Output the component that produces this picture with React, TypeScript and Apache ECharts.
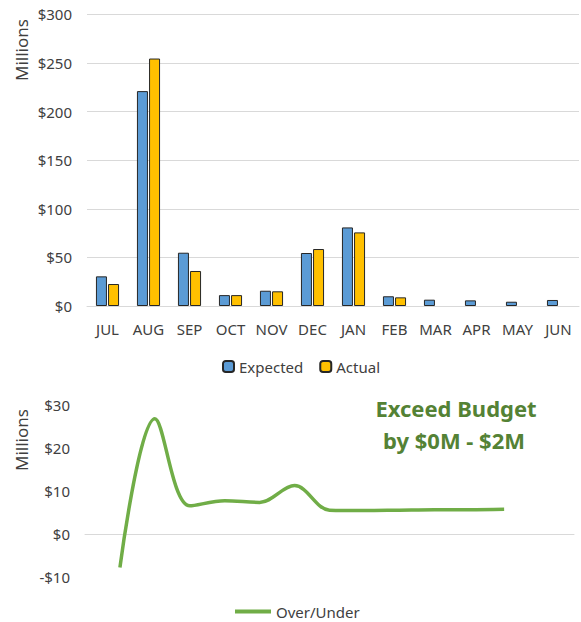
import React, { useEffect, useRef } from "react";
import * as echarts from "echarts";

const months = ["JUL", "AUG", "SEP", "OCT", "NOV", "DEC", "JAN", "FEB", "MAR", "APR", "MAY", "JUN"];
const expected = [30.5, 221, 54.8, 11.2, 15.7, 54.5, 80.8, 10, 6.5, 5.8, 4.4, 6.2];
const actual: (number | null)[] = [22.6, 254.5, 36, 11.2, 15.1, 58.6, 75.7, 8.9, null, null, null, null];
const overUnder = [-7.7, 26.8, 6.6, 7.8, 7.4, 11.3, 5.6, 5.5, 5.6, 5.7, 5.7, 5.8];
const topTicks = { min: 0, max: 300, interval: 50 };
const bottomTicks = { min: -10, max: 30, interval: 10 };
const noteLines = ["Exceed Budget", "by $0M - $2M"];

const FONT = "Noto Sans";
const TXT = "#404040";
const GRID = "#d9d9d9";

function money(v: number) {
  return v < 0 ? "-$" + Math.abs(v) : "$" + v;
}

export default function App() {
  const ref = useRef<HTMLDivElement>(null);
  useEffect(() => {
    document.body.style.margin = "0";
    const chart = echarts.init(ref.current!, null, { renderer: "svg" });
    chart.setOption({
      animation: false,
      textStyle: { fontFamily: FONT },
      grid: [
        { left: 87, right: 2, top: 14.3, height: 291.7 },
        { left: 85, right: 7, top: 405, height: 172.4 },
      ],
      xAxis: [
        {
          type: "category",
          gridIndex: 0,
          data: months,
          axisLine: { lineStyle: { color: GRID } },
          axisTick: { show: false },
          axisLabel: { color: TXT, fontSize: 15, margin: 15, interval: 0, fontFamily: FONT },
        },
        {
          type: "value",
          gridIndex: 1,
          min: -1,
          max: 13,
          axisLine: { show: true, onZero: true, lineStyle: { color: GRID } },
          axisTick: { show: false },
          axisLabel: { show: false },
          splitLine: { show: false },
        },
      ],
      yAxis: [
        {
          type: "value",
          gridIndex: 0,
          ...topTicks,
          axisLine: { show: false },
          axisTick: { show: false },
          axisLabel: { color: TXT, fontSize: 15, margin: 15, formatter: money, fontFamily: FONT },
          splitLine: { lineStyle: { color: GRID } },
        },
        {
          type: "value",
          gridIndex: 1,
          ...bottomTicks,
          axisLine: { show: false },
          axisTick: { show: false },
          axisLabel: { color: TXT, fontSize: 15, margin: 15, formatter: money, fontFamily: FONT },
          splitLine: { show: false },
        },
      ],
      legend: [
        {
          data: ["Expected", "Actual"],
          left: 222,
          top: 359,
          padding: 0,
          itemWidth: 11,
          itemHeight: 11,
          itemGap: 16,
          textStyle: { color: TXT, fontSize: 15, fontFamily: FONT },
        },
        {
          data: [{ name: "Over/Under", icon: "rect" }],
          left: 235,
          top: 604,
          padding: 0,
          itemWidth: 36,
          itemHeight: 4,
          textStyle: { color: TXT, fontSize: 15, fontFamily: FONT },
        },
      ],
      series: [
        {
          name: "Expected",
          type: "bar",
          xAxisIndex: 0,
          yAxisIndex: 0,
          data: expected,
          barWidth: 11,
          barGap: "10%",
          itemStyle: { color: "#5B9BD5", borderColor: "#262626", borderWidth: 1 },
        },
        {
          name: "Actual",
          type: "bar",
          xAxisIndex: 0,
          yAxisIndex: 0,
          data: actual.map((v) => (v === null ? "-" : v)),
          barWidth: 11,
          barGap: "10%",
          itemStyle: { color: "#FFC000", borderColor: "#262626", borderWidth: 1 },
        },
        {
          name: "Over/Under",
          type: "line",
          xAxisIndex: 1,
          yAxisIndex: 1,
          data: overUnder.map((v, i) => [i, v]),
          smooth: 0.35,
          symbol: "none",
          lineStyle: { color: "#70AD47", width: 3.5 },
          itemStyle: { color: "#70AD47" },
        },
      ],
      graphic: [
        {
          type: "text",
          x: 21,
          y: 50,
          rotation: Math.PI / 2,
          style: { text: "Millions", fill: TXT, font: `17px "${FONT}"`, textAlign: "center", textVerticalAlign: "middle" },
        },
        {
          type: "text",
          x: 21,
          y: 440,
          rotation: Math.PI / 2,
          style: { text: "Millions", fill: TXT, font: `17px "${FONT}"`, textAlign: "center", textVerticalAlign: "middle" },
        },
        {
          type: "text",
          x: 456,
          y: 408,
          style: { text: noteLines[0], fill: "#548235", font: `bold 22px "${FONT}"`, textAlign: "center", textVerticalAlign: "middle" },
        },
        {
          type: "text",
          x: 454,
          y: 439.5,
          style: { text: noteLines[1], fill: "#548235", font: `bold 22px "${FONT}"`, textAlign: "center", textVerticalAlign: "middle" },
        },
      ],
    });
    return () => chart.dispose();
  }, []);
  return <div ref={ref} style={{ width: 581, height: 622 }} />;
}
